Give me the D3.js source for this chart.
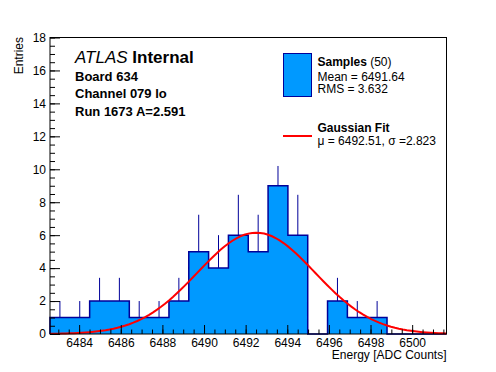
<!DOCTYPE html>
<html>
  <head>
    <meta charset="UTF-8" />
    <script src="https://cdnjs.cloudflare.com/ajax/libs/d3/7.8.5/d3.min.js"></script>
    <style>
      body {
        margin: 0;
        background: #fff;
      }
      text {
        font-family: "Liberation Sans", Arial, sans-serif;
        fill: #000;
      }
      .tick > line {
        stroke: #000;
      }
      path.domain {
        stroke: none;
        fill: none;
      }
    </style>
  </head>
  <body>
    <svg id="chart" width="496" height="372"></svg>
    <script>
      // histogram range and contents
      const xMin = 6482.6,
        xMax = 6501.65;
      const counts = [1, 1, 2, 2, 1, 1, 2, 5, 4, 6, 5, 9, 6, 0, 2, 1, 1, 0, 0, 0];
      const errors = [1, 1, 1.41, 1.41, 1, 1, 1.41, 2.24, 2, 2.45, 2.24, 1.2, 2.45, 0, 1.41, 1, 1, 0, 0, 0];
      const xTicks = [6484, 6486, 6488, 6490, 6492, 6494, 6496, 6498, 6500];
      const yTicks = [0, 2, 4, 6, 8, 10, 12, 14, 16, 18];
      // gaussian fit parameters
      const fitMu = 6492.51,
        fitSigma = 2.823,
        fitAmp = 6.15;

      const fillColor = "#0099ff",
        lineColor = "#000099";

      const svg = d3.select("#chart");
      const padL = 50,
        padR = 446.5,
        padT = 37.5,
        padB = 334;

      const xScale = d3.scaleLinear().domain([xMin, xMax]).range([padL, padR]),
        yScale = d3.scaleLinear().domain([0, 18]).range([padB, padT]);

      const binW = (xMax - xMin) / counts.length;
      const bins = counts.map((c, i) => ({
        x0: xMin + i * binW,
        x1: xMin + (i + 1) * binW,
        n: c,
        err: errors[i]
      }));

      // error bars (drawn first, fill covers lower half)
      svg
        .append("g")
        .selectAll("line")
        .data(bins.filter(d => d.n > 0))
        .enter()
        .append("line")
        .attr("x1", d => xScale((d.x0 + d.x1) / 2))
        .attr("x2", d => xScale((d.x0 + d.x1) / 2))
        .attr("y1", d => yScale(d.n - d.err))
        .attr("y2", d => yScale(d.n + d.err))
        .attr("stroke", lineColor)
        .attr("stroke-width", 1);

      const stepPts = [[xMin, 0]]
        .concat(bins.map(d => [d.x0, d.n]))
        .concat([[xMax, counts[counts.length - 1]], [xMax, 0]]);

      const area = d3
        .area()
        .curve(d3.curveStepAfter)
        .x(d => xScale(d[0]))
        .y0(yScale(0))
        .y1(d => yScale(d[1]));

      const line = d3
        .line()
        .curve(d3.curveStepAfter)
        .x(d => xScale(d[0]))
        .y(d => yScale(d[1]));

      svg
        .append("path")
        .datum(bins.map(d => [d.x0, d.n]).concat([[xMax, 0]]))
        .attr("d", area)
        .attr("fill", fillColor);

      svg
        .append("path")
        .datum(stepPts)
        .attr("d", line)
        .attr("fill", "none")
        .attr("stroke", lineColor)
        .attr("stroke-width", 1.5);

      // gaussian fit curve
      const fitPts = d3.range(0, 101).map(i => {
        const x = xMin + (i * (xMax - xMin)) / 100;
        return [x, fitAmp * Math.exp(-0.5 * Math.pow((x - fitMu) / fitSigma, 2))];
      });
      svg
        .append("path")
        .datum(fitPts)
        .attr("d", d3.line().x(d => xScale(d[0])).y(d => yScale(d[1])))
        .attr("fill", "none")
        .attr("stroke", "#ff0000")
        .attr("stroke-width", 2);

      // axes
      const minorX = d3.range(Math.ceil(xMin * 2) / 2, xMax, 0.5);
      svg
        .append("g")
        .attr("transform", `translate(0,${padB})`)
        .call(d3.axisBottom(xScale).tickValues(minorX).tickSize(-4.5).tickFormat(""));
      svg
        .append("g")
        .attr("class", "x axis")
        .attr("transform", `translate(0,${padB})`)
        .call(d3.axisBottom(xScale).tickValues(xTicks).tickSize(-9).tickPadding(4).tickFormat(d3.format("d")))
        .selectAll("text")
        .style("font-size", "12px")
        .style("font-family", '"Liberation Sans", Arial, sans-serif');

      svg
        .append("g")
        .attr("transform", `translate(${padL},0)`)
        .call(d3.axisLeft(yScale).tickValues(d3.range(0, 18.01, 0.5)).tickSize(-5).tickFormat(""));
      svg
        .append("g")
        .attr("class", "y axis")
        .attr("transform", `translate(${padL},0)`)
        .call(d3.axisLeft(yScale).tickValues(yTicks).tickSize(-10).tickPadding(4))
        .selectAll("text")
        .style("font-size", "12px")
        .style("font-family", '"Liberation Sans", Arial, sans-serif');

      svg.selectAll(".tick line").attr("stroke-width", 1);

      // frame
      svg
        .append("rect")
        .attr("x", padL)
        .attr("y", padT)
        .attr("width", padR - padL)
        .attr("height", padB - padT)
        .attr("fill", "none")
        .attr("stroke", "#000")
        .attr("stroke-width", 1);

      // axis titles
      svg
        .append("text")
        .attr("x", padR)
        .attr("y", 359)
        .attr("text-anchor", "end")
        .style("font-size", "12px")
        .text("Energy [ADC Counts]");
      svg
        .append("text")
        .attr("transform", "translate(23,37) rotate(-90)")
        .attr("text-anchor", "end")
        .style("font-size", "12px")
        .text("Entries");

      // labels
      const lbl = svg.append("text").attr("x", 75).attr("y", 62.5).style("font-size", "17px");
      lbl.append("tspan").style("font-style", "italic").text("ATLAS");
      lbl.append("tspan").style("font-weight", "bold").text(" Internal");
      [["Board 634", 80.7], ["Channel 079 lo", 98], ["Run 1673 A=2.591", 116]].forEach(t => {
        svg
          .append("text")
          .attr("x", 75)
          .attr("y", t[1])
          .style("font-size", "13px")
          .style("font-weight", "bold")
          .text(t[0]);
      });

      // legend
      svg
        .append("rect")
        .attr("x", 283.5)
        .attr("y", 53.5)
        .attr("width", 28)
        .attr("height", 43)
        .attr("fill", fillColor)
        .attr("stroke", lineColor)
        .attr("stroke-width", 1);
      const s = svg.append("text").attr("x", 317.5).attr("y", 65.7).style("font-size", "12px");
      s.append("tspan").style("font-weight", "bold").text("Samples");
      s.append("tspan").text(" (50)");
      svg.append("text").attr("x", 317.5).attr("y", 80.7).style("font-size", "12px").text("Mean = 6491.64");
      svg.append("text").attr("x", 317.5).attr("y", 93.3).style("font-size", "12px").text("RMS = 3.632");

      svg
        .append("line")
        .attr("x1", 283)
        .attr("x2", 312)
        .attr("y1", 136)
        .attr("y2", 136)
        .attr("stroke", "#ff0000")
        .attr("stroke-width", 2);
      svg
        .append("text")
        .attr("x", 317.5)
        .attr("y", 132.3)
        .style("font-size", "12px")
        .style("font-weight", "bold")
        .text("Gaussian Fit");
      svg
        .append("text")
        .attr("x", 317.5)
        .attr("y", 145)
        .style("font-size", "12px")
        .text("\u03bc = 6492.51, \u03c3 =2.823");
    </script>
  </body>
</html>
